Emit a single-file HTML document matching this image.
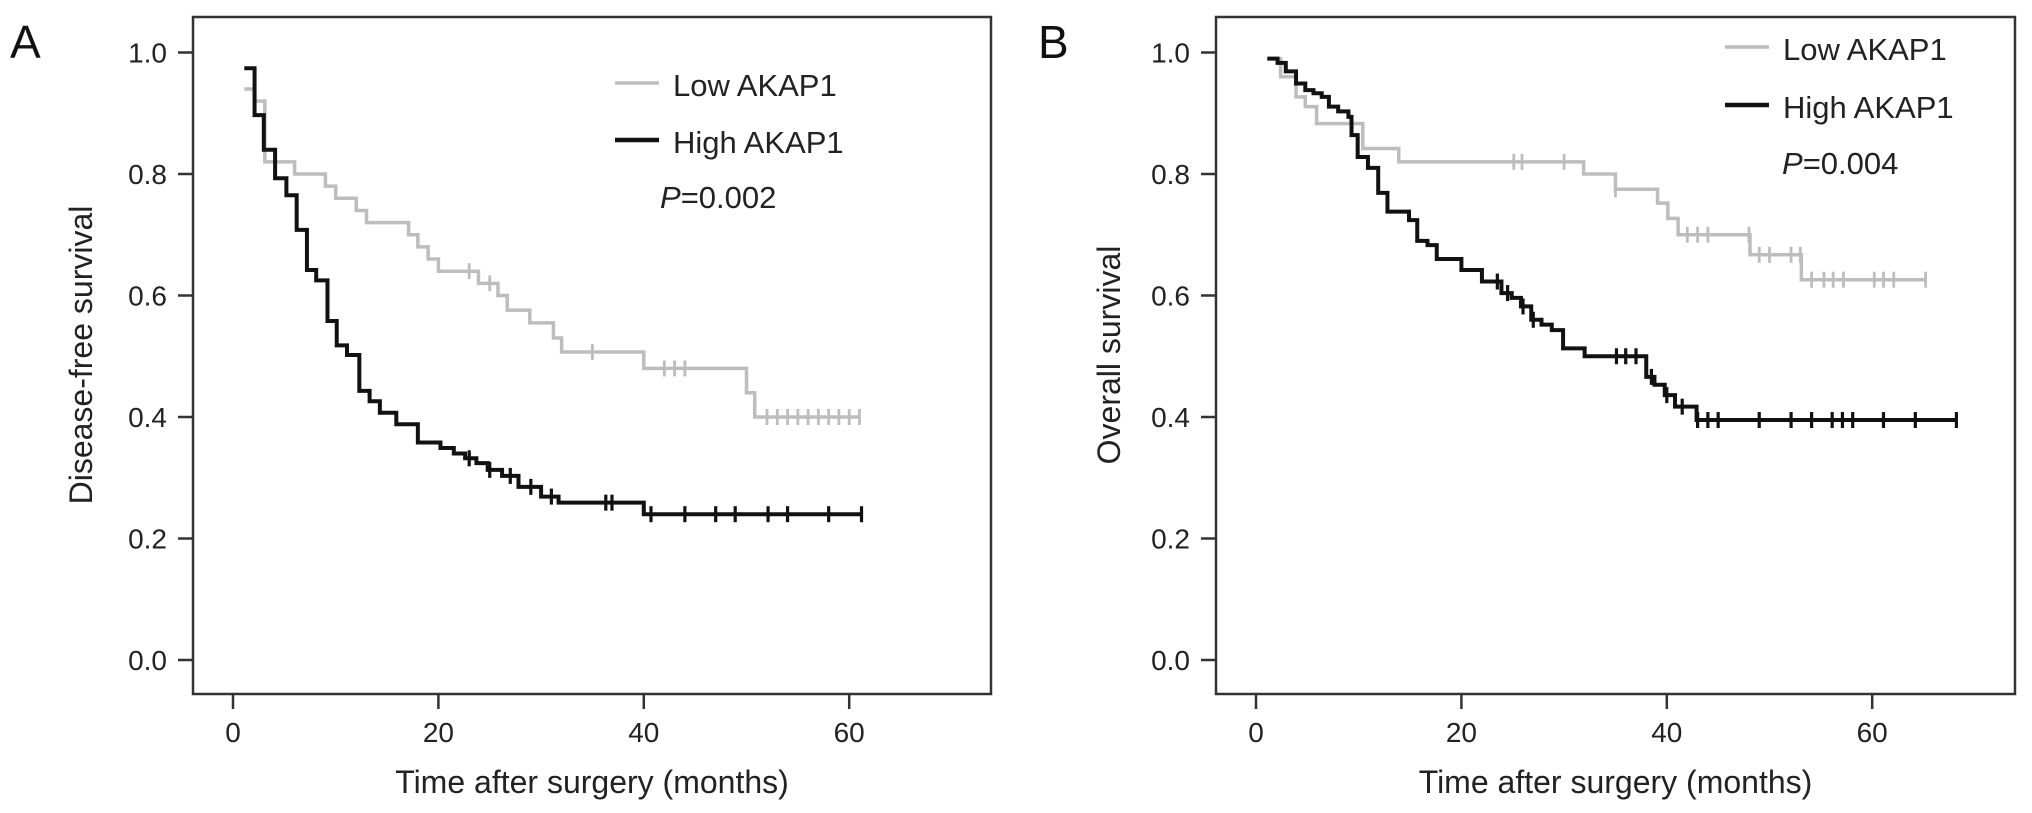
<!DOCTYPE html>
<html><head><meta charset="utf-8"><style>
html,body{margin:0;padding:0;background:#fff;}
svg{display:block;font-family:"Liberation Sans",Arial,sans-serif;}
</style></head><body>
<svg id="chart" width="2032" height="813" viewBox="0 0 2032 813" xmlns="http://www.w3.org/2000/svg"></svg>
<script>
// Panel A: disease-free survival
const aLowTimes = [1.1, 2.1, 3.1, 6.0, 9.0, 10.0, 12.0, 13.0, 17.1, 18.0, 19.0, 20.0, 23.9, 25.8, 26.7, 28.9, 31.2, 32.0, 40.0, 50.0, 50.8, 61.0];
const aLowSurv  = [0.94, 0.92, 0.82, 0.80, 0.78, 0.76, 0.74, 0.72, 0.70, 0.68, 0.66, 0.64, 0.62, 0.60, 0.576, 0.555, 0.53, 0.507, 0.48, 0.44, 0.40, 0.40];
const aLowCensor = [23, 25, 35, 42, 43, 44, 52, 53, 54, 55, 56, 57, 58, 59, 60, 61];
const aHighTimes = [1.1, 2.1, 3.0, 4.1, 5.2, 6.2, 7.2, 8.1, 9.2, 10.1, 11.1, 12.3, 13.3, 14.3, 15.9, 18.0, 20.2, 21.5, 22.6, 23.7, 24.8, 26.2, 27.8, 30.0, 31.7, 40.0, 61.2];
const aHighSurv  = [0.974, 0.897, 0.84, 0.793, 0.765, 0.708, 0.642, 0.625, 0.558, 0.518, 0.502, 0.443, 0.426, 0.407, 0.388, 0.358, 0.349, 0.34, 0.332, 0.324, 0.313, 0.303, 0.285, 0.269, 0.259, 0.24, 0.24];
const aHighCensor = [23, 25, 27, 29, 31, 36.3, 36.9, 40.7, 44, 47, 48.9, 52.1, 54, 58, 61.2];
// Panel B: overall survival
const bLowTimes = [1.1, 2.4, 3.9, 4.8, 5.9, 10.4, 13.9, 31.9, 35.0, 39.1, 40.1, 41.1, 48.1, 53.1, 65.3];
const bLowSurv  = [0.99, 0.96, 0.927, 0.911, 0.883, 0.842, 0.82, 0.80, 0.775, 0.752, 0.727, 0.70, 0.667, 0.626, 0.626];
const bLowCensor = [25.1, 25.9, 30, 35, 42, 43, 44, 48, 49, 50, 52.1, 53, 54.1, 55.3, 56.2, 57.2, 60.2, 61.1, 62.1, 65.2];
const bHighTimes = [1.1, 2.1, 2.9, 3.9, 4.8, 5.6, 6.4, 7.1, 8.0, 9.0, 9.3, 9.9, 10.9, 11.9, 12.8, 14.9, 15.7, 16.7, 17.6, 20.0, 22.0, 23.9, 24.9, 25.8, 26.8, 27.8, 28.8, 29.9, 32.0, 38.0, 38.8, 39.8, 40.8, 42.9, 68.2];
const bHighSurv  = [0.99, 0.983, 0.969, 0.949, 0.938, 0.933, 0.927, 0.911, 0.903, 0.894, 0.864, 0.828, 0.81, 0.769, 0.738, 0.724, 0.69, 0.683, 0.66, 0.642, 0.623, 0.604, 0.596, 0.582, 0.56, 0.552, 0.543, 0.513, 0.50, 0.466, 0.453, 0.436, 0.417, 0.395, 0.395];
const bHighCensor = [23.5, 24.5, 26, 27, 35.1, 36, 37, 38.5, 40, 41.5, 43, 44, 45, 49, 52.1, 54.1, 56.1, 57.1, 58.1, 61.1, 64.2, 68.2];
const xTicks = [0, 20, 40, 60];
const yTicks = [0.0, 0.2, 0.4, 0.6, 0.8, 1.0];

const NS = "http://www.w3.org/2000/svg";
const svg = document.getElementById('chart');
function mk(tag, attrs, parent){const e=document.createElementNS(NS,tag);for(const k in attrs)e.setAttribute(k,attrs[k]);(parent||svg).appendChild(e);return e;}

function panel(cfg){
  const g = mk('g',{});
  
  
  const xs = t => cfg.x0 + t*10.27;
  const ys = s => 660 - s*607.5;
  const box = mk('rect',{x:cfg.left,y:17,width:cfg.right-cfg.left,height:677,fill:'none',stroke:'#333',"stroke-width":2.5},g);
  
  
  xTicks.forEach(t=>{
    const l=mk('line',{x1:xs(t),x2:xs(t),y1:694,y2:709,stroke:'#333',"stroke-width":2.5},g);
    
    
    const tx=mk('text',{x:xs(t),y:742,"font-size":28,"text-anchor":"middle",fill:'#222'},g);
    tx.textContent=String(t);
    
    
  });
  yTicks.forEach(v=>{
    const l=mk('line',{x1:cfg.left-15,x2:cfg.left,y1:ys(v),y2:ys(v),stroke:'#333',"stroke-width":2.5},g);
    
    
    const tx=mk('text',{x:cfg.left-26,y:ys(v)+10,"font-size":28,"text-anchor":"end",fill:'#222'},g);
    tx.textContent=v.toFixed(1);
    
    
  });
  const xt=mk('text',{x:(cfg.left+cfg.right)/2,y:793,"font-size":32,"text-anchor":"middle",fill:'#222'},g);
  xt.textContent='Time after surgery (months)';
  
  
  const yt=mk('text',{x:0,y:0,"font-size":32,"text-anchor":"middle",fill:'#222',transform:`translate(${cfg.ytx},355) rotate(-90)`},g);
  yt.textContent=cfg.ytitle;
  
  
  const pl=mk('text',{x:cfg.labelX,y:58,"font-size":46,fill:'#111'},g);
  pl.textContent=cfg.label;
  
  

  function curve(times, surv, censor, color, w, nm){
    let d=`M${xs(times[0])},${ys(surv[0])}`;
    for(let i=1;i<times.length;i++){d+=` H${xs(times[i])} V${ys(surv[i])}`;}
    const p=mk('path',{d:d,fill:'none',stroke:color,"stroke-width":w,"stroke-linejoin":"miter"},g);
    
    
    censor.forEach(c=>{
      let s=surv[0];
      for(let i=0;i<times.length;i++){if(times[i]<=c)s=surv[i];}
      const m=mk('line',{x1:xs(c),x2:xs(c),y1:ys(s)-8,y2:ys(s)+8,stroke:color,"stroke-width":w*0.8},g);
      
      
    });
  }
  curve(cfg.lowT,cfg.lowS,cfg.lowC,'#bdbdbd',3.5,'low-akap1');
  curve(cfg.highT,cfg.highS,cfg.highC,'#111',4,'high-akap1');

  const L=cfg.leg;
  const l1=mk('line',{x1:L.x,x2:L.x+44,y1:L.y1,y2:L.y1,stroke:'#bdbdbd',"stroke-width":3.5},g);
  
  
  const t1=mk('text',{x:L.x+58,y:L.y1+13,"font-size":31,fill:'#222'},g);
  t1.textContent='Low AKAP1';
  
  
  const l2=mk('line',{x1:L.x,x2:L.x+44,y1:L.y2,y2:L.y2,stroke:'#111',"stroke-width":4.5},g);
  
  
  const t2=mk('text',{x:L.x+58,y:L.y2+13,"font-size":31,fill:'#222'},g);
  t2.textContent='High AKAP1';
  
  
  const pv=mk('text',{x:L.px,y:L.py,"font-size":31,fill:'#222'},g);
  pv.innerHTML='<tspan font-style="italic">P</tspan>='+cfg.p;
  
  
}

panel({name:'panel-a',left:193,right:991,x0:233,ytx:92,ytitle:'Disease-free survival',label:'A',labelX:10,
  lowT:aLowTimes,lowS:aLowSurv,lowC:aLowCensor,highT:aHighTimes,highS:aHighSurv,highC:aHighCensor,
  leg:{x:615,y1:83,y2:140,px:660,py:208},p:'0.002'});
panel({name:'panel-b',left:1216,right:2015,x0:1256,ytx:1120,ytitle:'Overall survival',label:'B',labelX:1038,
  lowT:bLowTimes,lowS:bLowSurv,lowC:bLowCensor,highT:bHighTimes,highS:bHighSurv,highC:bHighCensor,
  leg:{x:1725,y1:47,y2:105,px:1782,py:174},p:'0.004'});
</script>
</body></html>
